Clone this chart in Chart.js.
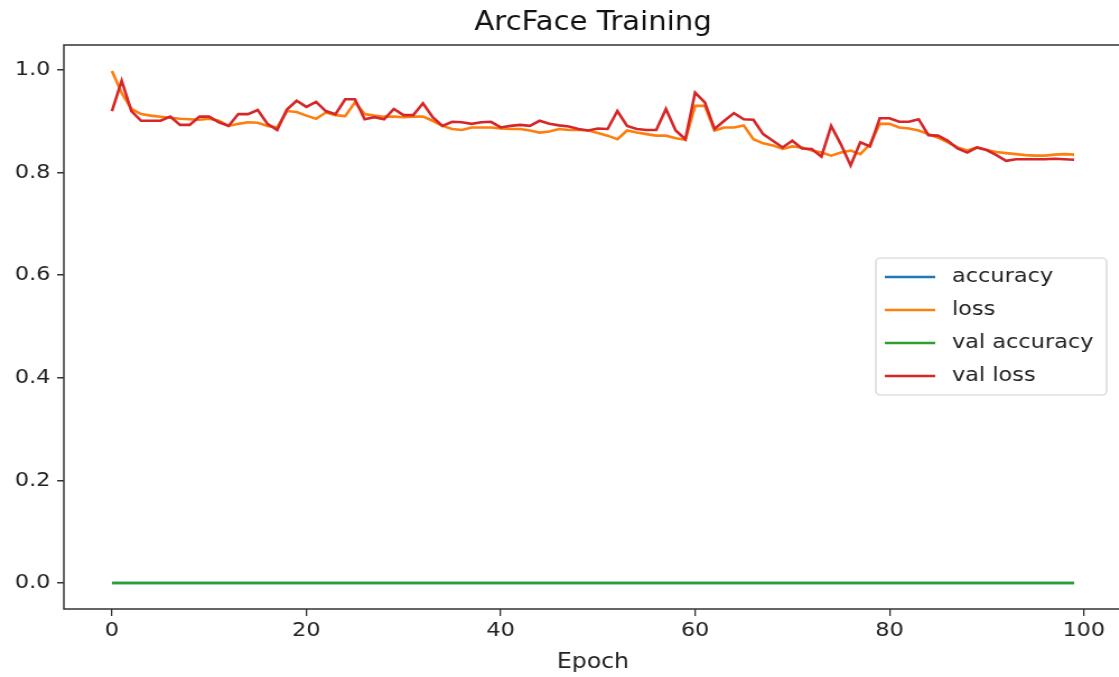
<!DOCTYPE html>
<html>
<head>
<meta charset="utf-8">
<script src="https://cdn.jsdelivr.net/npm/chart.js@4"></script>
<style>
  html, body { margin: 0; padding: 0; background: #fff; overflow: hidden; }
  /* the reference figure is stretched a little horizontally */
  #wrap { width: 1010px; height: 677px; transform: scaleX(1.12); transform-origin: 0 0; }
</style>
</head>
<body>
<div id="wrap"><canvas id="arcfaceChart" width="1010" height="677"></canvas></div>
<script>
// epochs 0..99
const epochs = Array.from({ length: 100 }, (_, i) => i);

const accuracy = [
  0, 0, 0, 0, 0, 0, 0, 0, 0, 0, 0, 0, 0, 0, 0, 0, 0, 0, 0, 0,
  0, 0, 0, 0, 0, 0, 0, 0, 0, 0, 0, 0, 0, 0, 0, 0, 0, 0, 0, 0,
  0, 0, 0, 0, 0, 0, 0, 0, 0, 0, 0, 0, 0, 0, 0, 0, 0, 0, 0, 0,
  0, 0, 0, 0, 0, 0, 0, 0, 0, 0, 0, 0, 0, 0, 0, 0, 0, 0, 0, 0,
  0, 0, 0, 0, 0, 0, 0, 0, 0, 0, 0, 0, 0, 0, 0, 0, 0, 0, 0, 0
];

const loss = [
  0.998, 0.955, 0.924, 0.914, 0.911, 0.909, 0.907, 0.905, 0.904, 0.903,
  0.905, 0.901, 0.891, 0.895, 0.898, 0.897, 0.891, 0.888, 0.920, 0.918,
  0.911, 0.905, 0.917, 0.912, 0.910, 0.937, 0.914, 0.911, 0.909, 0.909,
  0.908, 0.909, 0.909, 0.901, 0.891, 0.885, 0.883, 0.888, 0.888, 0.888,
  0.886, 0.885, 0.885, 0.882, 0.878, 0.880, 0.885, 0.883, 0.883, 0.882,
  0.877, 0.872, 0.865, 0.882, 0.878, 0.875, 0.872, 0.872, 0.867, 0.864,
  0.930, 0.930, 0.882, 0.888, 0.888, 0.892, 0.865, 0.857, 0.853, 0.846,
  0.851, 0.849, 0.843, 0.839, 0.833, 0.839, 0.843, 0.836, 0.855, 0.895,
  0.895, 0.888, 0.886, 0.882, 0.875, 0.868, 0.859, 0.849, 0.843, 0.849,
  0.844, 0.840, 0.838, 0.836, 0.834, 0.833, 0.833, 0.835, 0.836, 0.835
];

const valAccuracy = [
  0, 0, 0, 0, 0, 0, 0, 0, 0, 0, 0, 0, 0, 0, 0, 0, 0, 0, 0, 0,
  0, 0, 0, 0, 0, 0, 0, 0, 0, 0, 0, 0, 0, 0, 0, 0, 0, 0, 0, 0,
  0, 0, 0, 0, 0, 0, 0, 0, 0, 0, 0, 0, 0, 0, 0, 0, 0, 0, 0, 0,
  0, 0, 0, 0, 0, 0, 0, 0, 0, 0, 0, 0, 0, 0, 0, 0, 0, 0, 0, 0,
  0, 0, 0, 0, 0, 0, 0, 0, 0, 0, 0, 0, 0, 0, 0, 0, 0, 0, 0, 0
];

const valLoss = [
  0.920, 0.979, 0.920, 0.901, 0.901, 0.901, 0.909, 0.893, 0.893, 0.909,
  0.909, 0.898, 0.891, 0.914, 0.914, 0.922, 0.895, 0.883, 0.923, 0.940,
  0.928, 0.938, 0.920, 0.914, 0.943, 0.943, 0.904, 0.908, 0.904, 0.924,
  0.912, 0.912, 0.935, 0.908, 0.891, 0.899, 0.898, 0.895, 0.898, 0.899,
  0.888, 0.891, 0.893, 0.891, 0.901, 0.895, 0.892, 0.890, 0.885, 0.882,
  0.886, 0.885, 0.920, 0.891, 0.885, 0.883, 0.883, 0.924, 0.882, 0.865,
  0.956, 0.937, 0.885, 0.901, 0.916, 0.904, 0.903, 0.875, 0.862, 0.849,
  0.862, 0.847, 0.846, 0.831, 0.891, 0.855, 0.814, 0.859, 0.851, 0.906,
  0.906, 0.899, 0.899, 0.904, 0.873, 0.872, 0.862, 0.847, 0.839, 0.849,
  0.844, 0.834, 0.823, 0.826, 0.826, 0.826, 0.826, 0.827, 0.826, 0.825
];

const xTicks = [0, 20, 40, 60, 80, 100];
const yTicks = [0.0, 0.2, 0.4, 0.6, 0.8, 1.0];

const FONT = "'DejaVu Sans', sans-serif";

// title, frame and legend drawn like matplotlib
const mplDecor = {
    id: 'mplDecor',
    afterDraw(chart) {
        const { ctx, chartArea: a } = chart;
        ctx.save();
        // frame
        ctx.strokeStyle = '#333';
        ctx.lineWidth = 1.5;
        ctx.strokeRect(a.left, a.top, a.right - a.left, a.bottom - a.top);

        // title
        ctx.fillStyle = '#111';
        ctx.font = '26px ' + FONT;
        ctx.textAlign = 'center';
        ctx.textBaseline = 'middle';
        ctx.fillText('ArcFace Training', (a.left + a.right) / 2, 23);

        // legend
        const bx = 782, by = 258, bw = 206, bh = 137;
        ctx.beginPath();
        ctx.roundRect(bx, by, bw, bh, 4);
        ctx.fillStyle = 'rgba(255,255,255,0.85)';
        ctx.fill();
        ctx.strokeStyle = '#d0d0d0';
        ctx.lineWidth = 1.2;
        ctx.stroke();

        ctx.font = '20px ' + FONT;
        ctx.textAlign = 'left';
        chart.data.datasets.forEach((ds, i) => {
            const y = 277 + i * 33;
            ctx.beginPath();
            ctx.strokeStyle = ds.borderColor;
            ctx.lineWidth = 2.5;
            ctx.moveTo(790, y);
            ctx.lineTo(835, y);
            ctx.stroke();
            ctx.fillStyle = '#222';
            ctx.fillText(ds.label, 850, y);
        });
        ctx.restore();
    }
};

const ctx = document.getElementById('arcfaceChart').getContext('2d');
new Chart(ctx, {
    type: 'line',
    data: {
        labels: epochs,
        datasets: [
            { label: 'accuracy', data: accuracy, borderColor: '#1f77b4', order: 4 },
            { label: 'loss', data: loss, borderColor: '#ff7f0e', order: 3 },
            { label: 'val accuracy', data: valAccuracy, borderColor: '#2ca02c', order: 2 },
            { label: 'val loss', data: valLoss, borderColor: '#d62728', order: 1 }
        ]
    },
    options: {
        responsive: false,
        animation: false,
        layout: { padding: { top: 45, right: 8, left: 0, bottom: 0 } },
        elements: {
            line: { borderWidth: 2.6, tension: 0, fill: false },
            point: { radius: 0 }
        },
        scales: {
            x: {
                type: 'linear',
                min: -4.95,
                max: 103.95,
                afterBuildTicks: (scale) => { scale.ticks = xTicks.map(v => ({ value: v })); },
                afterFit: (scale) => { scale.height = 68; },
                border: { display: false },
                grid: { drawOnChartArea: false, drawTicks: true, tickLength: 7, color: '#333', lineWidth: 1.3 },
                ticks: { font: { family: FONT, size: 20 }, color: '#222', padding: 3, maxRotation: 0 },
                title: {
                    display: true,
                    text: 'Epoch',
                    font: { family: FONT, size: 21 },
                    color: '#222',
                    padding: { top: 0, bottom: 2 }
                }
            },
            y: {
                min: -0.0507,
                max: 1.0487,
                afterBuildTicks: (scale) => { scale.ticks = yTicks.map(v => ({ value: v })); },
                afterFit: (scale) => { scale.width = 57; },
                border: { display: false },
                grid: { drawOnChartArea: false, drawTicks: true, tickLength: 6, color: '#333', lineWidth: 1.5 },
                ticks: {
                    font: { family: FONT, size: 20 },
                    color: '#222',
                    padding: 6,
                    callback: (v) => Number(v).toFixed(1)
                }
            }
        },
        plugins: {
            legend: { display: false },
            title: { display: false },
            tooltip: { enabled: false }
        }
    },
    plugins: [mplDecor]
});
</script>
</body>
</html>
